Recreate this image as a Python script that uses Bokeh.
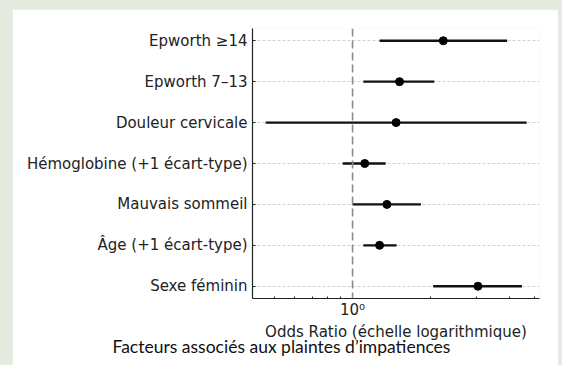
from bokeh.plotting import figure
from bokeh.layouts import column
from bokeh.models import Range1d, FixedTicker, Span, Title, ColumnDataSource
from bokeh.embed import file_html
from bokeh.resources import INLINE

# ---- data ----
factors = ["Epworth ≥14", "Epworth 7–13", "Douleur cervicale",
           "Hémoglobine (+1 écart-type)", "Mauvais sommeil",
           "Âge (+1 écart-type)", "Sexe féminin"]
odds_ratio = [2.23, 1.515, 1.47, 1.114, 1.355, 1.27, 3.03]
ci_low = [1.27, 1.10, 0.464, 0.916, 1.00, 1.10, 2.04]
ci_high = [3.92, 2.06, 4.66, 1.34, 1.83, 1.476, 4.47]
x_major_ticks = [1]
x_minor_ticks = [0.5, 0.6, 0.7, 0.8, 0.9, 2, 3, 4, 5]
x_major_labels = {1: "10⁰"}
reference_value = 1
x_label = "Odds Ratio (échelle logarithmique)"
caption = "Facteurs associés aux plaintes d’impatiences"

n = len(factors)
ypos = [n - 1 - i for i in range(n)]
src = ColumnDataSource(dict(y=ypos, orr=odds_ratio, lo=ci_low, hi=ci_high))

p = figure(width=546, height=356, x_axis_type="log",
           x_range=Range1d(0.413, 5.22), y_range=Range1d(-0.3, n - 1 + 0.3),
           output_backend="svg", toolbar_location=None,
           min_border_left=240, min_border_right=19,
           min_border_top=19, min_border_bottom=67)
p.outline_line_color = None
p.background_fill_color = "white"
p.border_fill_color = "white"

# grid
p.xgrid.visible = False
p.ygrid.ticker = FixedTicker(ticks=ypos)
p.ygrid.grid_line_color = "#c4c4c4"
p.ygrid.grid_line_dash = "3 2"
p.ygrid.grid_line_width = 0.8

p.add_layout(Span(location=reference_value, dimension="height",
                  line_color="#8a8a8a", line_dash="8 4", line_width=1.6))

p.segment(x0="lo", y0="y", x1="hi", y1="y", source=src,
          line_color="#111111", line_width=2.3)
p.scatter(x="orr", y="y", source=src, size=8, fill_color="#000000",
          line_color="#000000")

# x axis
xa = p.xaxis[0]
xa.ticker = FixedTicker(ticks=x_major_ticks, minor_ticks=x_minor_ticks)
xa.major_label_overrides = x_major_labels
xa.axis_label = x_label
xa.axis_label_text_font = "DejaVu Sans"
xa.axis_label_text_font_size = "15px"
xa.axis_label_text_font_style = "normal"
xa.axis_label_text_color = "#222222"
xa.axis_label_standoff = 1
xa.major_label_text_font = "DejaVu Sans"
xa.major_label_text_font_size = "15px"
xa.major_label_text_color = "#222222"
xa.major_label_standoff = 2
xa.major_tick_in = 4
xa.major_tick_out = 0
xa.minor_tick_in = 2
xa.minor_tick_out = 0
xa.axis_line_color = "#222222"
xa.axis_line_width = 1.2
xa.major_tick_line_color = "#222222"
xa.minor_tick_line_color = "#222222"

# y axis
ya = p.yaxis[0]
ya.ticker = FixedTicker(ticks=ypos)
ya.major_label_overrides = {y: f for y, f in zip(ypos, factors)}
ya.major_label_text_font = "DejaVu Sans"
ya.major_label_text_font_size = "15px"
ya.major_label_text_color = "#222222"
ya.major_label_standoff = 5
ya.major_tick_in = 3
ya.major_tick_out = 0
ya.minor_tick_line_color = None
ya.axis_line_color = "#222222"
ya.axis_line_width = 1.2
ya.major_tick_line_color = "#222222"

t = Title(text=caption, align="left", offset=-140, vertical_align="top",
          text_font="Lato", text_font_size="17.5px",
          text_font_style="normal", text_color="#111111", standoff=-16)
p.add_layout(t, "below")

page = column(p, styles={"background-color": "#e5eadf",
                         "padding-left": "12px", "padding-top": "9px",
                         "padding-right": "4px"})

open("out.html", "w").write(file_html(page, INLINE))
